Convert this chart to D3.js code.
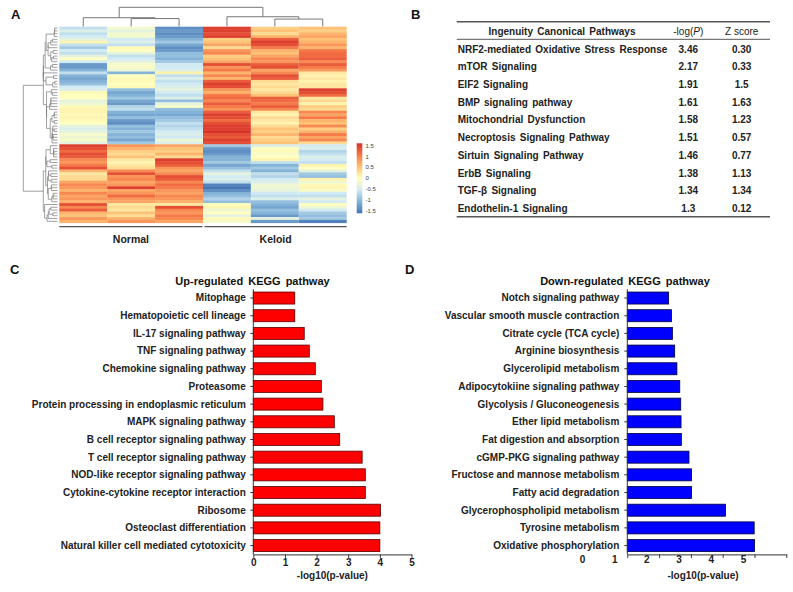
<!DOCTYPE html>
<html>
<head>
<meta charset="utf-8">
<script src="https://cdn.jsdelivr.net/npm/d3@7"></script>
<style>
  body { margin: 0; background: #fff; }
  svg { font-family: "Liberation Sans", Arial, sans-serif; }
</style>
</head>
<body>
<div id="chart"></div>
<script>
// ---- A: heatmap z-scores, rows top to bottom, one array per sample
const normal1 = [-0.6,-0.4,-0.6,-0.5,-0.3,0.1,-0.6,-0.8,-0.5,-0.6,-0.3,0.0,-0.5,-1.2,-1.2,-1.0,-0.6,-1.0,-1.1,-1.0,-0.9,-0.5,-0.4,
  0.05,0.0,0.0,-0.3,-0.2,0.05,0.1,0.1,0.05,0.1,0.05,0.0,-0.3,-0.4,-0.3,-0.1,-0.2,-0.1,-0.3,1.4,1.3,1.1,1.3,1.2,
  0.9,0.8,1.0,1.3,0.6,0.2,0.3,0.3,0.7,0.9,0.8,0.6,0.9,0.7,0.8,0.6,1.3,0.9,1.2,0.6,0.5,0.8,0.6];
const normal2 = [-0.15,-0.3,-0.15,-0.15,-0.5,-0.4,-0.6,0.05,0.0,-0.3,-0.6,-0.5,-0.3,-0.1,-0.1,-0.2,-1.0,0.0,0.05,0.05,0.0,0.05,-0.9,
  -1.1,-1.0,-0.8,-1.1,-1.2,-0.7,-0.6,-1.0,-1.1,-0.9,-1.2,-1.3,-0.9,-1.0,-0.8,-1.0,-0.9,-1.1,-0.8,0.8,0.6,0.4,0.3,0.5,
  0.2,0.1,0.2,0.3,0.9,1.3,0.8,0.9,0.7,0.8,1.4,0.7,0.8,1.1,0.8,0.7,0.2,0.3,0.2,0.5,0.3,0.6,0.8];
const normal3 = [-1.3,-1.2,-1.3,-1.2,-1.0,-0.8,-1.1,-1.3,-1.2,-0.9,-0.9,-1.0,-0.8,-0.5,-0.5,-0.4,0.1,-0.6,-0.4,-0.6,-0.5,-0.4,-0.3,
  -0.5,-0.6,-0.4,-0.9,-0.3,-0.1,-0.9,-1.0,-1.1,-0.9,-0.8,-0.6,-0.7,-0.6,-0.5,-0.4,-0.5,-0.2,-0.4,0.7,0.5,0.4,0.6,0.3,
  1.4,1.3,1.2,0.8,0.7,0.9,1.3,1.2,0.9,1.1,1.0,0.8,0.7,0.9,0.8,0.6,0.2,1.3,0.9,0.8,1.0,0.9,0.7];
const keloid1 = [1.4,1.4,1.3,1.4,0.4,0.5,0.7,0.3,0.8,0.9,0.4,0.5,0.7,1.3,0.8,1.0,0.6,0.9,0.6,1.2,1.4,1.3,0.8,
  0.6,1.0,1.1,0.9,1.2,1.0,0.8,1.2,1.4,1.3,1.1,1.3,1.4,1.4,1.5,1.3,1.2,1.4,1.3,-0.8,-1.2,-1.3,-1.2,-1.0,
  -1.0,-0.8,-1.1,-0.9,-0.6,-0.3,-0.5,-0.4,-0.6,-1.4,-1.5,-1.3,-1.0,-0.9,-0.7,-0.9,0.0,0.1,-0.2,0.0,-0.3,0.05,-0.1];
const keloid2 = [0.4,0.5,0.3,0.6,1.2,1.4,1.3,1.0,0.6,0.5,0.7,0.9,0.8,1.2,1.3,0.7,0.9,1.3,1.2,0.3,0.2,0.3,0.2,
  0.3,0.5,1.2,1.1,1.0,1.2,0.9,0.2,0.1,0.3,0.2,0.1,0.3,0.5,0.4,0.6,0.3,0.4,0.5,-0.4,0.0,0.05,-0.1,0.0,
  0.1,-0.6,-1.0,-0.8,-1.0,-0.6,-0.7,-0.5,-0.4,-0.2,-0.2,-0.3,-0.5,-0.6,-0.4,-0.9,-1.0,-1.1,-0.9,-1.0,-1.2,-0.3,-1.2];
const keloid3 = [0.5,0.4,0.6,0.7,0.5,0.6,0.8,0.6,1.0,1.1,1.1,1.2,0.9,1.2,1.0,0.8,0.2,0.1,0.2,0.1,0.2,0.2,1.4,
  1.3,1.1,0.2,0.3,0.1,0.4,0.3,0.9,0.7,1.0,0.6,0.5,0.9,0.4,0.6,1.0,0.7,0.9,0.3,-0.5,-0.4,-0.7,-0.6,-0.4,
  -0.5,-0.6,0.1,0.0,-0.3,-0.8,-0.9,0.1,-0.2,0.05,0.1,-0.1,-0.5,-0.6,-0.3,-0.5,0.0,-0.2,-0.5,-0.8,-0.9,-0.8,-1.4];
const samples = ["N1", "N2", "N3", "K1", "K2", "K3"];
const groups = ["Normal", "Keloid"];
const legendTicks = [1.5, 1, 0.5, 0, -0.5, -1, -1.5];

// ---- B: IPA table
const ipaPathways = ["NRF2-mediated Oxidative Stress Response", "mTOR Signaling", "EIF2 Signaling",
  "BMP signaling pathway", "Mitochondrial Dysfunction", "Necroptosis Signaling Pathway",
  "Sirtuin Signaling Pathway", "ErbB Signaling", "TGF-\u03b2 Signaling", "Endothelin-1 Signaling"];
const ipaLogP = ["3.46", "2.17", "1.91", "1.61", "1.58", "1.51", "1.46", "1.38", "1.34", "1.3"];
const ipaZ = ["0.30", "0.33", "1.5", "1.63", "1.23", "0.57", "0.77", "1.13", "1.34", "0.12"];

// ---- C / D: KEGG bars
const upPathways = ["Mitophage", "Hematopoietic cell lineage", "IL-17 signaling pathway", "TNF signaling pathway",
  "Chemokine signaling pathway", "Proteasome", "Protein processing in endoplasmic reticulum",
  "MAPK signaling pathway", "B cell receptor signaling pathway", "T cell receptor signaling pathway",
  "NOD-like receptor signaling pathway", "Cytokine-cytokine receptor interaction", "Ribosome",
  "Osteoclast differentiation", "Natural killer cell mediated cytotoxicity"];
const upValues = [1.31, 1.31, 1.61, 1.77, 1.96, 2.15, 2.2, 2.56, 2.73, 3.44, 3.54, 3.54, 4.02, 4.0, 4.0];
const downPathways = ["Notch signaling pathway", "Vascular smooth muscle contraction", "Citrate cycle (TCA cycle)",
  "Arginine biosynthesis", "Glycerolipid metabolism", "Adipocytokiine signaling pathway",
  "Glycolysis / Gluconeogenesis", "Ether lipid metabolism", "Fat digestion and absorption",
  "cGMP-PKG signaling pathway", "Fructose and mannose metabolism", "Fatty acid degradation",
  "Glycerophospholipid metabolism", "Tyrosine metabolism", "Oxidative phosphorylation"];
const downValues = [1.3, 1.39, 1.42, 1.49, 1.56, 1.65, 1.68, 1.69, 1.7, 1.94, 2.02, 2.02, 3.09, 3.99, 4.0];
const xTicks = [0, 1, 2, 3, 4, 5];

const W = 793, H = 592;
const txt = "#222";
const svg = d3.select("#chart").append("svg").attr("width", W).attr("height", H);

// panel letters
svg.selectAll("text.letter")
  .data([["A", 11, 19], ["B", 411, 19], ["C", 10, 274], ["D", 405, 274]])
  .join("text").attr("class", "letter")
  .attr("x", d => d[1]).attr("y", d => d[2])
  .attr("font-size", 13).attr("font-weight", "bold").attr("fill", "#111")
  .text(d => d[0]);

// ================= A: heatmap =================
const cols = [normal1, normal2, normal3, keloid1, keloid2, keloid3];
const nRows = normal1.length;
const rowVectors = d3.range(nRows).map(i => cols.map(c => c[i]));
const colVectors = cols;

// order-preserving agglomerative clustering (average linkage)
function adjacentCluster(vectors) {
  const dist = (a, b) => Math.sqrt(d3.sum(a, (v, k) => (v - b[k]) ** 2));
  let nodes = vectors.map((v, i) => ({ idx: [i], h: 0, pos: i }));
  const merges = [];
  while (nodes.length > 1) {
    let best = 0, bestD = Infinity;
    for (let j = 0; j < nodes.length - 1; j++) {
      const a = nodes[j], b = nodes[j + 1];
      const d = d3.mean(d3.cross(a.idx, b.idx), ([p, q]) => dist(vectors[p], vectors[q]));
      if (d < bestD) { bestD = d; best = j; }
    }
    const a = nodes[best], b = nodes[best + 1];
    const m = { idx: a.idx.concat(b.idx), h: Math.max(bestD, a.h, b.h), pos: (a.pos + b.pos) / 2, children: [a, b] };
    merges.push(m);
    nodes.splice(best, 2, m);
  }
  return { root: nodes[0], merges };
}

const hmX = d3.scaleBand().domain(samples).range([59.3, 346.7]);
const hmY = d3.scaleBand().domain(d3.range(nRows)).range([26.7, 222.7]);
const rowPos = d3.scaleLinear().domain([-0.5, nRows - 0.5]).range([26.7, 222.7]);
const colPos = d3.scaleLinear().domain([-0.5, samples.length - 0.5]).range([59.3, 346.7]);

const color = d3.scaleLinear()
  .domain([-1.5, -1, -0.5, 0, 0.5, 1, 1.5])
  .range(["#4575b4", "#84b3d7", "#d2eaf3", "#ffffbf", "#fdc275", "#f67a49", "#d73027"])
  .clamp(true);

const heat = svg.append("g");
cols.forEach((col, c) => {
  heat.selectAll(null).data(col).join("rect")
    .attr("x", hmX(samples[c]))
    .attr("y", (d, i) => hmY(i))
    .attr("width", hmX.bandwidth())
    .attr("height", hmY.bandwidth() + 0.4)
    .attr("fill", d => color(d));
});

// row dendrogram
const rowTree = adjacentCluster(rowVectors);
const rdx = d3.scaleLinear().domain([0, rowTree.root.h]).range([57.5, 23.3]);
svg.append("g").selectAll("path").data(rowTree.merges).join("path")
  .attr("fill", "none").attr("stroke", "#777").attr("stroke-width", 0.7)
  .attr("d", m => {
    const [a, b] = m.children;
    return `M${rdx(a.h)},${rowPos(a.pos)}H${rdx(m.h)}V${rowPos(b.pos)}H${rdx(b.h)}`;
  });

// column dendrogram
const colTree = adjacentCluster(colVectors);
const cdy = d3.scaleLinear().domain([0, colTree.root.h]).range([26.4, 7.3]);
svg.append("g").selectAll("path").data(colTree.merges).join("path")
  .attr("fill", "none").attr("stroke", "#777").attr("stroke-width", 1)
  .attr("d", m => {
    const [a, b] = m.children;
    return `M${colPos(a.pos)},${cdy(a.h)}V${cdy(m.h)}H${colPos(b.pos)}V${cdy(b.h)}`;
  });

// group lines + labels
const grp = svg.append("g");
groups.forEach((g, k) => {
  const x0 = hmX(samples[k * 3]) + (k ? 1.5 : 0);
  const x1 = hmX(samples[k * 3 + 2]) + hmX.bandwidth() - (k ? 0 : 0.5);
  grp.append("line").attr("x1", x0).attr("x2", x1).attr("y1", 226.7).attr("y2", 226.7)
    .attr("stroke", "#555").attr("stroke-width", 1.3);
  grp.append("text").attr("x", (x0 + x1) / 2).attr("y", 243)
    .attr("text-anchor", "middle").attr("font-size", 10.5).attr("font-weight", "bold").attr("fill", txt)
    .text(g);
});

// colour legend
const legY = d3.scaleLinear().domain([-1.5, 1.5]).range([211, 145.7]);
const grad = svg.append("defs").append("linearGradient").attr("id", "hmgrad")
  .attr("x1", 0).attr("x2", 0).attr("y1", 1).attr("y2", 0);
grad.selectAll("stop").data(d3.range(-1.5, 1.51, 0.25)).join("stop")
  .attr("offset", d => (d + 1.5) / 3).attr("stop-color", d => color(d));
svg.append("rect").attr("x", 356.7).attr("y", 143.3).attr("width", 5.6).attr("height", 70)
  .attr("fill", "url(#hmgrad)");
svg.append("g").selectAll("text").data(legendTicks).join("text")
  .attr("x", 365.5).attr("y", d => legY(d) + 2)
  .attr("font-size", 6).attr("fill", "#444")
  .text(d => d);

// ================= B: table =================
const tb = svg.append("g");
const tLeft = 456.7, tRight = 770;
const c2 = 688.3, c3 = 741.7;
const rowY = d3.scaleLinear().domain([0, 9]).range([49, 208.5]);
[[21.7, 1.5], [39.3, 1], [216.7, 1.5]].forEach(([y, w]) =>
  tb.append("line").attr("x1", tLeft).attr("x2", tRight).attr("y1", y).attr("y2", y)
    .attr("stroke", "#555").attr("stroke-width", w));
const header = tb.append("g").attr("font-size", 10).attr("font-weight", "bold").attr("fill", txt)
  .attr("text-anchor", "middle");
header.append("text").attr("x", 562).attr("y", 34.5).attr("word-spacing", 1.5).text("Ingenuity Canonical Pathways");
const hp = header.append("text").attr("x", c2).attr("y", 34.5).attr("font-weight", "normal");
hp.append("tspan").text("-log(");
hp.append("tspan").attr("font-style", "italic").text("P");
hp.append("tspan").text(")");
header.append("text").attr("x", c3).attr("y", 34.5).attr("font-weight", "normal").text("Z score");
const rows = tb.selectAll("g.row").data(ipaPathways).join("g").attr("class", "row")
  .attr("font-size", 10).attr("font-weight", "bold").attr("fill", txt);
rows.append("text").attr("x", tLeft + 1).attr("y", (d, i) => rowY(i) + 3.6).attr("word-spacing", 1.5).text(d => d);
rows.append("text").attr("x", c2).attr("y", (d, i) => rowY(i) + 3.6).attr("text-anchor", "middle").text((d, i) => ipaLogP[i]);
rows.append("text").attr("x", c3).attr("y", (d, i) => rowY(i) + 3.6).attr("text-anchor", "middle").text((d, i) => ipaZ[i]);

// ================= C & D: bar charts =================
function barChart(opts) {
  const g = svg.append("g");
  const x = d3.scaleLinear().domain([0, 5]).range([opts.x0, opts.x1]);
  const y = d3.scaleBand().domain(opts.names).range([289.2, 554.4]).paddingInner(0.32).paddingOuter(0.16);

  g.selectAll("rect").data(opts.values).join("rect")
    .attr("x", x(0))
    .attr("y", (d, i) => y(opts.names[i]))
    .attr("width", d => x(d) - x(0))
    .attr("height", y.bandwidth())
    .attr("fill", opts.fill)
    .attr("stroke", opts.stroke).attr("stroke-width", 0.8);

  const yAx = g.append("g").attr("transform", `translate(${x(0)},0)`)
    .call(d3.axisLeft(y).tickSize(3).tickPadding(opts.pad));
  yAx.select(".domain").attr("stroke", "#333").attr("d", `M0,289.2V554.4`);
  yAx.selectAll("line").attr("stroke", "#333");
  yAx.selectAll("text").attr("font-family", null).attr("font-size", 10).attr("font-weight", "bold")
    .attr("fill", txt).attr("dy", "0.34em");
  yAx.attr("font-family", null).attr("font-size", null);

  const xAx = g.append("g").attr("transform", `translate(0,554.4)`)
    .call(d3.axisBottom(x).tickValues(xTicks).tickSize(3.5).tickSizeOuter(0)
      .tickFormat(opts.labelX ? "" : d3.format("d")));
  xAx.select(".domain").attr("stroke", "#333");
  xAx.selectAll("line").attr("stroke", "#333");
  xAx.attr("font-family", null).attr("font-size", null);
  xAx.selectAll("text").attr("font-size", 10).attr("font-weight", "bold").attr("fill", txt).attr("dy", "0.55em");

  if (opts.labelX) {
    // tick labels in D sit apart from the tick marks
    const lx = d3.scaleLinear().domain([0, 5]).range(opts.labelX);
    const lab = g.append("g").attr("transform", `translate(0,554.4)`)
      .call(d3.axisBottom(lx).tickValues(xTicks).tickSize(0).tickPadding(3.5).tickFormat(d3.format("d")));
    lab.select(".domain").remove();
    lab.attr("font-family", null).attr("font-size", null);
    lab.selectAll("text").attr("font-size", 10).attr("font-weight", "bold").attr("fill", txt).attr("dy", "0.55em");
  }

  g.append("text").attr("x", opts.axisTitleX).attr("y", 578.5).attr("text-anchor", "middle")
    .attr("font-size", 10).attr("font-weight", "bold").attr("fill", txt).text("-log10(p-value)");
  g.append("text").attr("x", opts.titleX).attr("y", 284.5).attr("text-anchor", "middle")
    .attr("font-size", 11).attr("font-weight", "bold").attr("fill", "#111").attr("word-spacing", 2).text(opts.title);
}

barChart({
  names: upPathways, values: upValues, x0: 253.3, x1: 411.5, pad: 4.5,
  fill: "#ff0000", stroke: "#5a0000", title: "Up-regulated KEGG pathway",
  titleX: 252.5, axisTitleX: 332.4
});
barChart({
  names: downPathways, values: downValues, x0: 627.3, x1: 786.3, pad: 5,
  fill: "#0000ff", stroke: "#00003a", title: "Down-regulated KEGG pathway",
  titleX: 625, axisTitleX: 703, labelX: [582, 743]
});
</script>
</body>
</html>
